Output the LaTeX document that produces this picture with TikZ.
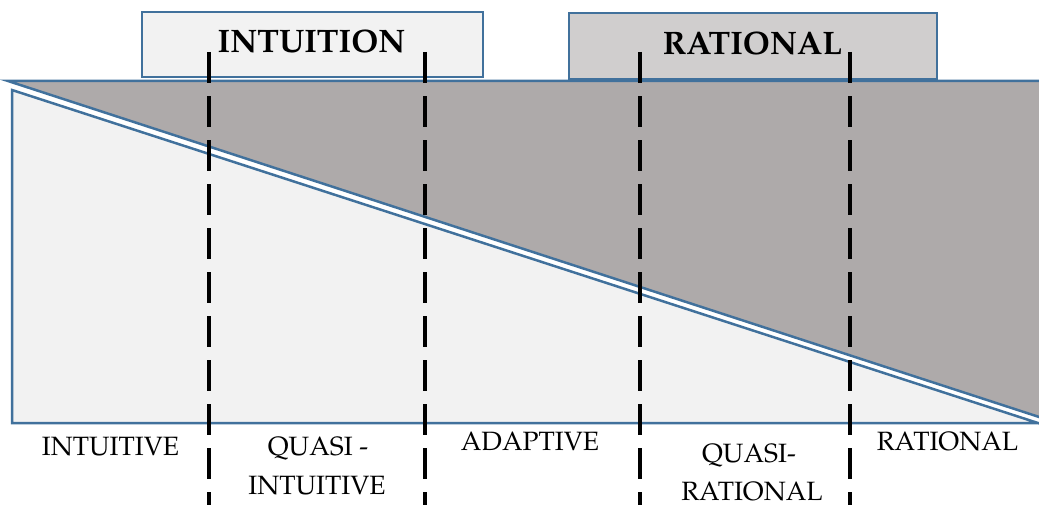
\documentclass[tikz,border=0pt]{standalone}
\usepackage[T1]{fontenc}
\usepackage{mathpazo}
\definecolor{edgeblue}{HTML}{41719C}
\definecolor{lightfill}{HTML}{F2F2F2}
\definecolor{darkfill}{HTML}{AEAAAA}
\definecolor{boxfill}{HTML}{D0CECE}
\tikzset{
  outline/.style={draw=edgeblue, line width=2.5pt, line join=miter},
  divider/.style={black, line width=3.5pt, dash pattern=on 31pt off 13pt},
  label/.style={inner sep=0pt, anchor=base, font=\fontsize{26.5}{30}\selectfont},
  title/.style={inner sep=0pt, anchor=base, font=\fontsize{32.5}{38}\selectfont\bfseries}
}
\begin{document}
\begin{tikzpicture}[x=1pt,y=-1pt]
\useasboundingbox (0,0) rectangle (1039,511);
% top boxes
\draw[outline, fill=lightfill] (142,12) rectangle (483,77);
\draw[outline, fill=boxfill] (569,13) rectangle (937,79);
\node[title] (tint) at (311.5,53) {INTUITION};
\node[title] (trat) at (752.5,55) {RATIONAL};
% triangles
\draw[outline, fill=darkfill] (8,81) -- (1041,81) -- (1041,417.6) -- cycle;
\draw[outline, fill=lightfill] (12,90) -- (12,423) -- (1041,423) -- (1041,424) -- cycle;
% dividers
\foreach \x/\n in {209/a,425/b,640/c,850/d}{
  \coordinate (top\n) at (\x,52);
  \coordinate (bot\n) at (\x,505);
  \draw[divider] (top\n) -- (bot\n);
}
% labels
\node[label] (l1) at (110.5,455) {INTUITIVE};
\node[label] (l2a) at (318,455) {QUASI -};
\node[label] (l2b) at (317,494) {INTUITIVE};
\node[label] (l3) at (530,450) {ADAPTIVE};
\node[label] (l4a) at (749,462) {QUASI-};
\node[label] (l4b) at (752,500) {RATIONAL};
\node[label] (l5) at (947.5,450) {RATIONAL};
\end{tikzpicture}
\end{document}
